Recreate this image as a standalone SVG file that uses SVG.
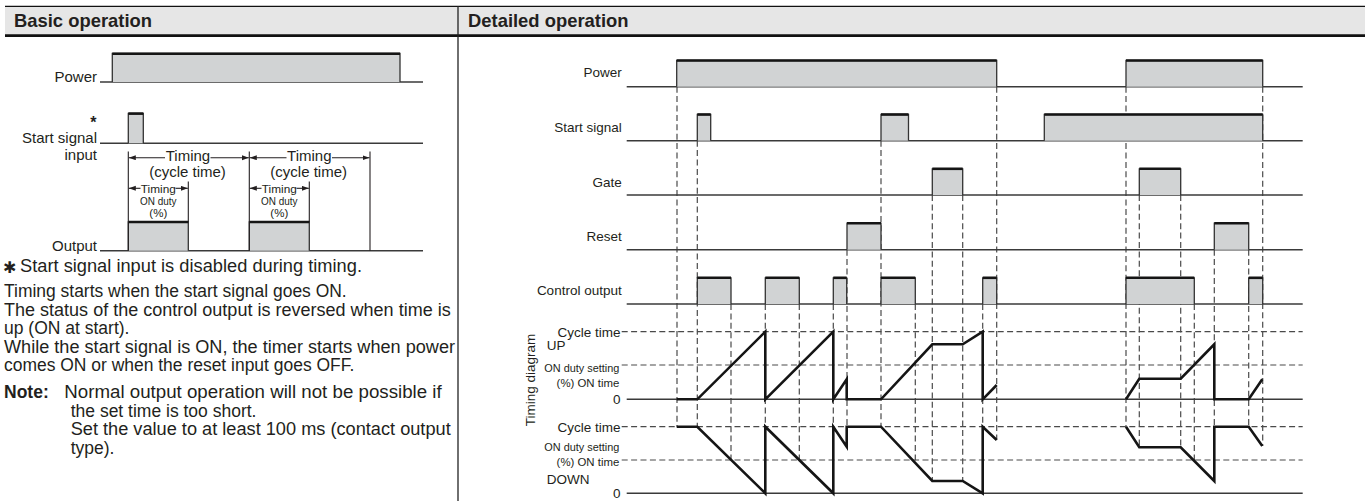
<svg xmlns="http://www.w3.org/2000/svg" width="1365" height="501" viewBox="0 0 1365 501">
<style>
text{font-family:"Liberation Sans",Arial,sans-serif;fill:#231f20}
.h{font-weight:bold;font-size:17.8px}
.p{font-size:17.5px}
.l{font-size:15px}
.r{font-size:13.5px}
.s{font-size:11.5px}
.base{stroke:#3a3a3a;stroke-width:1.5;fill:none}
.pulse{fill:#d1d3d4;stroke:#333;stroke-width:1.3}
.top{stroke:#151515;stroke-width:2.6}
.dash{stroke:#4a4a4a;stroke-width:1.2;stroke-dasharray:6 3.4;fill:none}
.wave{stroke:#151515;stroke-width:2.6;fill:none;stroke-linejoin:miter;stroke-miterlimit:10}
.arr{stroke:#231f20;stroke-width:1.1;fill:none;marker-end:url(#ah)}
.vl{stroke:#231f20;stroke-width:1.1}
</style>
<defs>
<marker id="ah" markerUnits="userSpaceOnUse" markerWidth="8" markerHeight="6" refX="7" refY="2.5" orient="auto"><path d="M0,0 L7,2.5 L0,5 z" fill="#231f20"/></marker>
</defs>

<g id="header">
<rect x="5" y="6" width="1360" height="29.5" fill="#e6e6e6"/>
<line x1="5" y1="6.3" x2="1365" y2="6.3" stroke="#111" stroke-width="1.3"/>
<line x1="5" y1="35.6" x2="1365" y2="35.6" stroke="#111" stroke-width="2.6"/>
<line x1="458" y1="6" x2="458" y2="501" stroke="#222" stroke-width="1.3"/>
<text class="h" x="14" y="27.3" textLength="138" lengthAdjust="spacingAndGlyphs">Basic operation</text>
<text class="h" x="468" y="27.3" textLength="160.5" lengthAdjust="spacingAndGlyphs">Detailed operation</text>
</g>

<!-- Basic operation -->
<g id="basic-power">
<text class="l" x="97" y="82" text-anchor="end">Power</text>
<line class="base" x1="100" y1="82" x2="423" y2="82"/>
<path class="pulse" d="M112.3,82 V53.5 H400 V82"/>
<line class="top" x1="112.3" y1="53.7" x2="400" y2="53.7"/>
</g>
<g id="basic-start">
<text x="93.3" y="128" text-anchor="middle" style="font-size:16px;font-weight:bold">*</text>
<text class="l" x="97" y="143" text-anchor="end">Start signal</text>
<text class="l" x="97" y="159.5" text-anchor="end">input</text>
<line class="base" x1="100" y1="143.3" x2="423" y2="143.3"/>
<path class="pulse" d="M128.3,143.3 V113.5 H143.3 V143.3"/>
<line class="top" x1="128.3" y1="113.6" x2="143.3" y2="113.6"/>
</g>
<g id="basic-output">
<text class="l" x="97" y="250.5" text-anchor="end">Output</text>
<line class="base" x1="100" y1="250.7" x2="423" y2="250.7"/>
<path class="pulse" d="M128.3,250.7 V222 H188.3 V250.7"/>
<line class="top" x1="128.3" y1="222" x2="188.3" y2="222"/>
<path class="pulse" d="M249.3,250.7 V222 H309.3 V250.7"/>
<line class="top" x1="249.3" y1="222" x2="309.3" y2="222"/>
</g>
<g id="basic-timing">
<line class="vl" x1="128.3" y1="151.5" x2="128.3" y2="250.7"/>
<line class="vl" x1="249.3" y1="151.5" x2="249.3" y2="250.7"/>
<line class="vl" x1="370" y1="151.5" x2="370" y2="250.7"/>
<line class="vl" x1="188.3" y1="181.5" x2="188.3" y2="222"/>
<line class="vl" x1="309.3" y1="181.5" x2="309.3" y2="222"/>
<line class="arr" x1="165" y1="157.7" x2="128.8" y2="157.7"/>
<line class="arr" x1="210.5" y1="157.7" x2="248.8" y2="157.7"/>
<line class="arr" x1="286.5" y1="157.7" x2="249.8" y2="157.7"/>
<line class="arr" x1="332" y1="157.7" x2="369.5" y2="157.7"/>
<text class="l" x="188" y="161" text-anchor="middle">Timing</text>
<text class="l" x="187.5" y="176.7" text-anchor="middle">(cycle time)</text>
<text class="l" x="309.3" y="161" text-anchor="middle">Timing</text>
<text class="l" x="308.7" y="176.7" text-anchor="middle">(cycle time)</text>
<line class="arr" x1="140.5" y1="188.3" x2="128.8" y2="188.3"/>
<line class="arr" x1="175.5" y1="188.3" x2="187.8" y2="188.3"/>
<line class="arr" x1="261.5" y1="188.3" x2="249.8" y2="188.3"/>
<line class="arr" x1="296.5" y1="188.3" x2="308.8" y2="188.3"/>
<text class="s" x="158.3" y="192.5" text-anchor="middle" textLength="35" lengthAdjust="spacingAndGlyphs">Timing</text>
<text class="s" x="158.3" y="205" text-anchor="middle" textLength="36.5" lengthAdjust="spacingAndGlyphs">ON duty</text>
<text class="s" x="158.3" y="216.5" text-anchor="middle">(%)</text>
<text class="s" x="279.3" y="192.5" text-anchor="middle" textLength="35" lengthAdjust="spacingAndGlyphs">Timing</text>
<text class="s" x="279.3" y="205" text-anchor="middle" textLength="36.5" lengthAdjust="spacingAndGlyphs">ON duty</text>
<text class="s" x="279.3" y="216.5" text-anchor="middle">(%)</text>
</g>
<g id="basic-notes">
<text x="3" y="273" style="font-family:'DejaVu Sans',sans-serif;font-size:16px">✱</text>
<text class="p" x="20" y="271.5" textLength="342" lengthAdjust="spacingAndGlyphs">Start signal input is disabled during timing.</text>
<text class="p" x="4" y="297" textLength="342.7" lengthAdjust="spacingAndGlyphs">Timing starts when the start signal goes ON.</text>
<text class="p" x="4" y="315.5" textLength="446.7" lengthAdjust="spacingAndGlyphs">The status of the control output is reversed when time is</text>
<text class="p" x="4" y="334">up (ON at start).</text>
<text class="p" x="4" y="352.5" textLength="451" lengthAdjust="spacingAndGlyphs">While the start signal is ON, the timer starts when power</text>
<text class="p" x="4" y="371" textLength="350.3" lengthAdjust="spacingAndGlyphs">comes ON or when the reset input goes OFF.</text>
<text class="p" x="4" y="398" font-weight="bold">Note:</text>
<text class="p" x="64.3" y="398" textLength="377.4" lengthAdjust="spacingAndGlyphs">Normal output operation will not be possible if</text>
<text class="p" x="70.7" y="416.5">the set time is too short.</text>
<text class="p" x="70.7" y="435" textLength="380" lengthAdjust="spacingAndGlyphs">Set the value to at least 100 ms (contact output</text>
<text class="p" x="70.7" y="453.5">type).</text>
</g>

<!-- Detailed operation -->
<g id="connectors">
<line class="dash" x1="677" y1="86.7" x2="677" y2="426.7"/>
<line class="dash" x1="697.3" y1="140.7" x2="697.3" y2="426.7"/>
<line class="dash" x1="731" y1="304" x2="731" y2="460"/>
<line class="dash" x1="765.3" y1="304" x2="765.3" y2="493.3"/>
<line class="dash" x1="799.3" y1="304" x2="799.3" y2="460"/>
<line class="dash" x1="833.3" y1="304" x2="833.3" y2="493.3"/>
<line class="dash" x1="847" y1="249.7" x2="847" y2="446.7"/>
<line class="dash" x1="881" y1="140.7" x2="881" y2="426.7"/>
<line class="dash" x1="915.3" y1="304" x2="915.3" y2="463"/>
<line class="dash" x1="932.3" y1="195" x2="932.3" y2="481"/>
<line class="dash" x1="962.7" y1="195" x2="962.7" y2="481"/>
<line class="dash" x1="982.7" y1="304" x2="982.7" y2="493.3"/>
<line class="dash" x1="996.7" y1="86.7" x2="996.7" y2="440"/>
<line class="dash" x1="1126" y1="86.7" x2="1126" y2="426.7"/>
<line class="dash" x1="1139.3" y1="195" x2="1139.3" y2="447.3"/>
<line class="dash" x1="1180.7" y1="195" x2="1180.7" y2="447.3"/>
<line class="dash" x1="1194.3" y1="304" x2="1194.3" y2="461"/>
<line class="dash" x1="1214.3" y1="249.7" x2="1214.3" y2="481"/>
<line class="dash" x1="1248.7" y1="249.7" x2="1248.7" y2="426.7"/>
<line class="dash" x1="1262.7" y1="86.7" x2="1262.7" y2="446"/>
</g>

<g id="det-power">
<text class="r" x="621.7" y="77.3" text-anchor="end">Power</text>
<line class="base" x1="626.7" y1="86.7" x2="1302.7" y2="86.7"/>
<path class="pulse" d="M676.7,86.7 V60.5 H996.7 V86.7"/>
<line class="top" x1="676.7" y1="60.5" x2="996.7" y2="60.5"/>
<path class="pulse" d="M1126,86.7 V60.5 H1262.7 V86.7"/>
<line class="top" x1="1126" y1="60.5" x2="1262.7" y2="60.5"/>
</g>
<g id="det-start">
<text class="r" x="621.7" y="131.7" text-anchor="end">Start signal</text>
<line class="base" x1="626.7" y1="140.7" x2="1302.7" y2="140.7"/>
<path class="pulse" d="M697.3,140.7 V114.5 H710.7 V140.7"/>
<line class="top" x1="697.3" y1="114.5" x2="710.7" y2="114.5"/>
<path class="pulse" d="M881,140.7 V114.5 H908.5 V140.7"/>
<line class="top" x1="881" y1="114.5" x2="908.5" y2="114.5"/>
<path class="pulse" d="M1044.3,140.7 V114.5 H1262.7 V140.7"/>
<line class="top" x1="1044.3" y1="114.5" x2="1262.7" y2="114.5"/>
</g>
<g id="det-gate">
<text class="r" x="621.7" y="186.7" text-anchor="end">Gate</text>
<line class="base" x1="626.7" y1="195" x2="1302.7" y2="195"/>
<path class="pulse" d="M932.3,195 V168.8 H962.7 V195"/>
<line class="top" x1="932.3" y1="168.8" x2="962.7" y2="168.8"/>
<path class="pulse" d="M1139.3,195 V168.8 H1180.7 V195"/>
<line class="top" x1="1139.3" y1="168.8" x2="1180.7" y2="168.8"/>
</g>
<g id="det-reset">
<text class="r" x="621.7" y="240.5" text-anchor="end">Reset</text>
<line class="base" x1="626.7" y1="249.7" x2="1302.7" y2="249.7"/>
<path class="pulse" d="M847,249.7 V223.2 H881 V249.7"/>
<line class="top" x1="847" y1="223.2" x2="881" y2="223.2"/>
<path class="pulse" d="M1214.3,249.7 V223.2 H1248.7 V249.7"/>
<line class="top" x1="1214.3" y1="223.2" x2="1248.7" y2="223.2"/>
</g>
<g id="det-control">
<text class="r" x="621.7" y="295" text-anchor="end">Control output</text>
<line class="base" x1="626.7" y1="304" x2="1302.7" y2="304"/>
<path class="pulse" d="M697.3,304 V277.8 H731 V304"/>
<line class="top" x1="697.3" y1="277.8" x2="731" y2="277.8"/>
<path class="pulse" d="M765.3,304 V277.8 H799.3 V304"/>
<line class="top" x1="765.3" y1="277.8" x2="799.3" y2="277.8"/>
<path class="pulse" d="M833.3,304 V277.8 H846.7 V304"/>
<line class="top" x1="833.3" y1="277.8" x2="846.7" y2="277.8"/>
<path class="pulse" d="M881,304 V277.8 H915.3 V304"/>
<line class="top" x1="881" y1="277.8" x2="915.3" y2="277.8"/>
<path class="pulse" d="M982.7,304 V277.8 H996.7 V304"/>
<line class="top" x1="982.7" y1="277.8" x2="996.7" y2="277.8"/>
<path class="pulse" d="M1126,304 V277.8 H1194.3 V304"/>
<line class="top" x1="1126" y1="277.8" x2="1194.3" y2="277.8"/>
<path class="pulse" d="M1248.7,304 V277.8 H1262.7 V304"/>
<line class="top" x1="1248.7" y1="277.8" x2="1262.7" y2="277.8"/>
</g>
<g id="det-timing">
<text class="r" x="535" y="380" text-anchor="middle" transform="rotate(-90 535 380)">Timing diagram</text>
<text class="r" x="620.5" y="336.5" text-anchor="end">Cycle time</text>
<text class="r" x="546.7" y="349.5">UP</text>
<text class="s" x="619.3" y="371.5" text-anchor="end" textLength="75" lengthAdjust="spacingAndGlyphs">ON duty setting</text>
<text class="s" x="619.3" y="386.5" text-anchor="end" textLength="62.7" lengthAdjust="spacingAndGlyphs">(%) ON time</text>
<text class="r" x="620.5" y="403.5" text-anchor="end">0</text>
<text class="r" x="620.5" y="431.5" text-anchor="end">Cycle time</text>
<text class="s" x="619.3" y="450.5" text-anchor="end" textLength="75" lengthAdjust="spacingAndGlyphs">ON duty setting</text>
<text class="s" x="619.3" y="465.5" text-anchor="end" textLength="62.7" lengthAdjust="spacingAndGlyphs">(%) ON time</text>
<text class="r" x="546.7" y="483.5">DOWN</text>
<text class="r" x="620.5" y="498.3" text-anchor="end">0</text>
<line class="dash" x1="621.7" y1="331.7" x2="1302.7" y2="331.7"/>
<line class="dash" x1="621.7" y1="365" x2="1302.7" y2="365"/>
<line class="base" x1="626.7" y1="399.3" x2="1302.7" y2="399.3"/>
<line class="dash" x1="621.7" y1="426.7" x2="1302.7" y2="426.7"/>
<line class="dash" x1="621.7" y1="460" x2="1302.7" y2="460"/>
<line class="base" x1="626.7" y1="493.3" x2="1302.7" y2="493.3"/>
<path class="wave" d="M676.7,399.3 H697.3 L765.3,331.7 V399.3 L833.3,331.7 V399.3 L846.7,379.3 V399.3 H881 L932.3,344.3 H962.7 L982.7,331.7 V399.3 L996.7,385"/>
<path class="wave" d="M1126,399.3 L1139.3,378.7 H1180.7 L1214.3,344.3 V399.3 H1248.7 L1262.3,379.3"/>
<path class="wave" d="M676.7,426.7 H697.3 L765.3,493.3 V426.7 L833.3,493.3 V426.7 L846.7,446.7 V426.7 H881 L932.3,481 H962.7 L982.7,493.3 V426.7 L996.7,440"/>
<path class="wave" d="M1126,426.7 L1139.3,447.3 H1180.7 L1214.3,481 V426.7 H1248.7 L1262.3,446"/>
</g>
</svg>
